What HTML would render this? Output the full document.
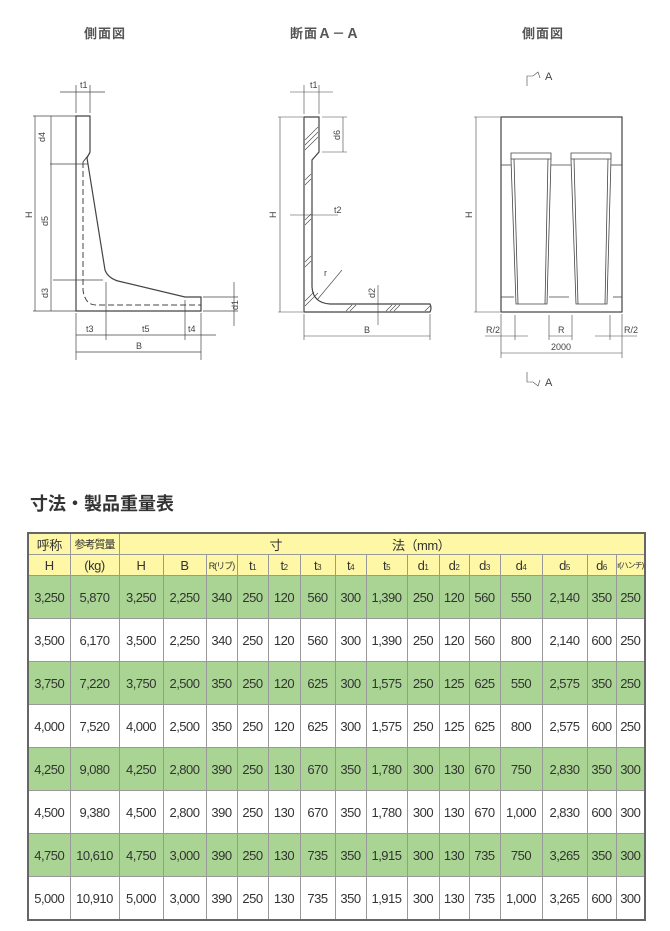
<!DOCTYPE html>
<html><head><meta charset="utf-8"><style>
body{margin:0;width:670px;height:931px;background:#fff;position:relative;overflow:hidden;font-family:"Liberation Sans","Noto Sans CJK JP",sans-serif;}
.t{position:absolute;font-size:13px;color:#555;font-weight:bold;letter-spacing:1px}
h2{position:absolute;left:30px;top:490px;margin:0;font-size:18px;color:#333;font-weight:bold;font-family:"Liberation Sans","Noto Sans CJK JP",sans-serif}
table{position:absolute;left:27px;top:532px;border-collapse:collapse;border:2px solid #666;table-layout:fixed;width:619px}
td{border:1px solid #999;text-align:center;padding:0;font-size:13px;color:#333;letter-spacing:-0.5px;white-space:nowrap;overflow:hidden}
tr.h td{background:#fdf7a6;height:20px;font-size:13px}
tr.g td{background:#aad494;height:42px}
tr.w td{background:#fff;height:42px}
sub{font-size:8px;vertical-align:baseline}
</style></head><body>
<div class="t" style="left:84px;top:23px">側面図</div>
<div class="t" style="left:290px;top:23px">断面Ａ－Ａ</div>
<div class="t" style="left:522px;top:23px">側面図</div>
<svg width="670" height="420" style="position:absolute;left:0;top:0" stroke="#444" fill="none" stroke-width="1" font-family="Liberation Sans" font-size="9">
<path d="M76,116 L90,116 L90,152 L87,158 L105,270 Q108,278 118,281 L185,297 L201,297 L201,311 L76,311 Z" stroke-width="1.2"/>
<path d="M83,162 L83,290 Q85,305 96,305 L201,305" stroke-dasharray="6,3"/>
<line x1="83" y1="162" x2="90" y2="153"/>
<g stroke-width="0.7">
<line x1="33" y1="116" x2="76" y2="116"/><line x1="33" y1="311" x2="76" y2="311"/>
<line x1="50" y1="164" x2="88" y2="164"/><line x1="53" y1="280" x2="103" y2="280"/>
<line x1="35" y1="116" x2="35" y2="311"/><line x1="51" y1="116" x2="51" y2="311"/>
<line x1="76" y1="85" x2="76" y2="113"/><line x1="90" y1="85" x2="90" y2="113"/>
<line x1="60" y1="92" x2="105" y2="92"/>
<line x1="76" y1="313" x2="76" y2="360"/><line x1="106" y1="282" x2="106" y2="340"/>
<line x1="185" y1="300" x2="185" y2="340"/><line x1="201" y1="313" x2="201" y2="360"/>
<line x1="76" y1="335" x2="216" y2="335"/><line x1="76" y1="352" x2="201" y2="352"/>
<line x1="203" y1="297" x2="238" y2="297"/><line x1="203" y1="311" x2="238" y2="311"/>
<line x1="234" y1="282" x2="234" y2="326"/>
</g>
<g fill="#444" stroke="none">
<text x="80" y="88">t1</text><text x="45" y="142" transform="rotate(-90 45 142)">d4</text>
<text x="32" y="218" transform="rotate(-90 32 218)">H</text><text x="48" y="226" transform="rotate(-90 48 226)">d5</text>
<text x="48" y="298" transform="rotate(-90 48 298)">d3</text><text x="238" y="310" transform="rotate(-90 238 310)">d1</text>
<text x="86" y="332">t3</text><text x="142" y="332">t5</text><text x="188" y="332">t4</text><text x="136" y="349">B</text>
</g>
<path d="M304,117 L319,117 L319,152 L312,160 L312,287 Q313,303 330,304 L430,304 Q432,308 430,312 L304,312 Z" stroke-width="1.2"/>
<g stroke-width="0.6">
<path d="M305,150 L318,137 M305,145 L318,132 M305,140 L318,127 M305,180 L311,174 M305,185 L311,179 M305,220 L311,214 M305,225 L311,219 M305,262 L311,256 M305,267 L311,261 M305,306 L318,293 M305,301 L314,292 M346,311 L352,305 M350,311 L356,305 M386,311 L392,305 M390,311 L396,305 M394,311 L400,305 M425,311 L430,306"/>
<line x1="280" y1="117" x2="280" y2="312"/><line x1="278" y1="117" x2="303" y2="117"/><line x1="278" y1="312" x2="303" y2="312"/>
<line x1="304" y1="85" x2="304" y2="114"/><line x1="319" y1="85" x2="319" y2="114"/><line x1="290" y1="92" x2="333" y2="92"/>
<line x1="322" y1="117" x2="347" y2="117"/><line x1="322" y1="152" x2="347" y2="152"/><line x1="343" y1="117" x2="343" y2="152"/>
<line x1="290" y1="215" x2="338" y2="215"/><line x1="317" y1="300" x2="342" y2="270"/>
<line x1="378" y1="285" x2="378" y2="325"/>
<line x1="304" y1="314" x2="304" y2="340"/><line x1="430" y1="314" x2="430" y2="340"/><line x1="304" y1="336" x2="430" y2="336"/>
</g>
<g fill="#444" stroke="none">
<text x="310" y="88">t1</text><text x="340" y="140" transform="rotate(-90 340 140)">d6</text>
<text x="276" y="218" transform="rotate(-90 276 218)">H</text><text x="334" y="213">t2</text>
<text x="324" y="276">r</text><text x="375" y="298" transform="rotate(-90 375 298)">d2</text><text x="364" y="333">B</text>
</g>
<rect x="501" y="117" width="121" height="195" stroke-width="1.2"/>
<g stroke-width="0.8">
<line x1="501" y1="165" x2="511" y2="165"/><line x1="551" y1="165" x2="571" y2="165"/><line x1="611" y1="165" x2="622" y2="165"/>
<line x1="501" y1="297" x2="514" y2="297"/><line x1="549" y1="297" x2="569" y2="297"/><line x1="613" y1="297" x2="622" y2="297"/>
<path d="M511,153 L551,153 L551,159 L547,304 L516,304 L511,159 Z M511,159 L551,159 M514,159 L518,304 M548,159 L545,304"/>
<path d="M571,153 L611,153 L611,159 L607,304 L576,304 L571,159 Z M571,159 L611,159 M574,159 L578,304 M608,159 L605,304"/>
</g>
<g stroke-width="0.6">
<line x1="476" y1="117" x2="476" y2="312"/><line x1="474" y1="117" x2="500" y2="117"/><line x1="474" y1="312" x2="500" y2="312"/>
<line x1="501" y1="314" x2="501" y2="358"/><line x1="622" y1="314" x2="622" y2="358"/>
<line x1="515" y1="315" x2="515" y2="340"/><line x1="549" y1="315" x2="549" y2="340"/><line x1="572" y1="315" x2="572" y2="340"/><line x1="610" y1="315" x2="610" y2="340"/>
<line x1="485" y1="336" x2="528" y2="336"/><line x1="549" y1="336" x2="572" y2="336"/><line x1="595" y1="336" x2="637" y2="336"/>
<line x1="501" y1="353" x2="622" y2="353"/>
<path d="M527,86 L527,76 L533,76 L538,72 L540,78"/><path d="M527,372 L527,382 L533,382 L538,386 L540,380"/>
</g>
<g fill="#444" stroke="none">
<text x="472" y="218" transform="rotate(-90 472 218)">H</text>
<text x="486" y="333">R/2</text><text x="558" y="333">R</text><text x="624" y="333">R/2</text><text x="551" y="350">2000</text>
<text x="545" y="80" font-size="11">A</text><text x="545" y="386" font-size="11">A</text>
</g>
</svg>
<h2>寸法・製品重量表</h2>
<table>
<colgroup><col style="width:42px"><col style="width:49px"><col style="width:44px"><col style="width:43px"><col style="width:31px"><col style="width:31px"><col style="width:32px"><col style="width:35px"><col style="width:31px"><col style="width:41px"><col style="width:32px"><col style="width:30px"><col style="width:31px"><col style="width:42px"><col style="width:45px"><col style="width:29px"><col style="width:29px"></colgroup>
<tr class="h"><td>呼称</td><td style="font-size:11px;letter-spacing:-1px">参考質量</td><td colspan="15" style="text-align:left;padding-left:150px">寸<span style="margin-left:110px">法（mm）</span></td></tr>
<tr class="h"><td>H</td><td>(kg)</td><td>H</td><td>B</td><td style="font-size:9px;letter-spacing:-1px">R(リブ)</td><td>t<sub>1</sub></td><td>t<sub>2</sub></td><td>t<sub>3</sub></td><td>t<sub>4</sub></td><td>t<sub>5</sub></td><td>d<sub>1</sub></td><td>d<sub>2</sub></td><td>d<sub>3</sub></td><td>d<sub>4</sub></td><td>d<sub>5</sub></td><td>d<sub>6</sub></td><td style="font-size:8px;letter-spacing:-1px">r(ハンチ)</td></tr>
<tr class="g"><td>3,250</td><td>5,870</td><td>3,250</td><td>2,250</td><td>340</td><td>250</td><td>120</td><td>560</td><td>300</td><td>1,390</td><td>250</td><td>120</td><td>560</td><td>550</td><td>2,140</td><td>350</td><td>250</td></tr>
<tr class="w"><td>3,500</td><td>6,170</td><td>3,500</td><td>2,250</td><td>340</td><td>250</td><td>120</td><td>560</td><td>300</td><td>1,390</td><td>250</td><td>120</td><td>560</td><td>800</td><td>2,140</td><td>600</td><td>250</td></tr>
<tr class="g"><td>3,750</td><td>7,220</td><td>3,750</td><td>2,500</td><td>350</td><td>250</td><td>120</td><td>625</td><td>300</td><td>1,575</td><td>250</td><td>125</td><td>625</td><td>550</td><td>2,575</td><td>350</td><td>250</td></tr>
<tr class="w"><td>4,000</td><td>7,520</td><td>4,000</td><td>2,500</td><td>350</td><td>250</td><td>120</td><td>625</td><td>300</td><td>1,575</td><td>250</td><td>125</td><td>625</td><td>800</td><td>2,575</td><td>600</td><td>250</td></tr>
<tr class="g"><td>4,250</td><td>9,080</td><td>4,250</td><td>2,800</td><td>390</td><td>250</td><td>130</td><td>670</td><td>350</td><td>1,780</td><td>300</td><td>130</td><td>670</td><td>750</td><td>2,830</td><td>350</td><td>300</td></tr>
<tr class="w"><td>4,500</td><td>9,380</td><td>4,500</td><td>2,800</td><td>390</td><td>250</td><td>130</td><td>670</td><td>350</td><td>1,780</td><td>300</td><td>130</td><td>670</td><td>1,000</td><td>2,830</td><td>600</td><td>300</td></tr>
<tr class="g"><td>4,750</td><td>10,610</td><td>4,750</td><td>3,000</td><td>390</td><td>250</td><td>130</td><td>735</td><td>350</td><td>1,915</td><td>300</td><td>130</td><td>735</td><td>750</td><td>3,265</td><td>350</td><td>300</td></tr>
<tr class="w"><td>5,000</td><td>10,910</td><td>5,000</td><td>3,000</td><td>390</td><td>250</td><td>130</td><td>735</td><td>350</td><td>1,915</td><td>300</td><td>130</td><td>735</td><td>1,000</td><td>3,265</td><td>600</td><td>300</td></tr>
</table>
</body></html>
